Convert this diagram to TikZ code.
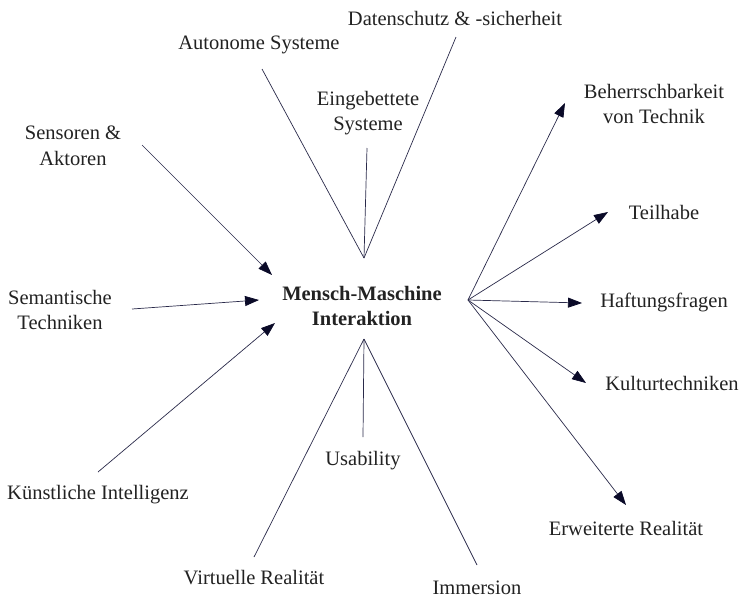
\documentclass[tikz,border=0pt]{standalone}
\usepackage{fontspec}
\setmainfont{Liberation Serif}
\usetikzlibrary{arrows.meta}
\definecolor{linec}{HTML}{2A2A4A}
\definecolor{tipc}{HTML}{0A0A28}
\definecolor{txtc}{HTML}{222222}
\tikzset{
  lbl/.style={text=txtc, font=\fontsize{20.5}{25.5}\selectfont, align=center, inner sep=0pt},
  hub/.style={text=txtc, font=\fontsize{20.5}{25.5}\selectfont\bfseries, align=center, inner sep=0pt},
  conn/.style={draw=linec, line width=0.7pt},
  arr/.style={conn, -{Triangle[length=14pt,width=10pt,fill=tipc,color=tipc]}}
}
\begin{document}
\begin{tikzpicture}[x=1pt,y=-1pt]
\useasboundingbox (0,0) rectangle (742,598);
% hub
\node[hub] (mmi) at (362,306) {Mensch-Maschine\\Interaktion};
% labels
\node[lbl] (dat) at (455,18) {Datenschutz \& -sicherheit};
\node[lbl] (aut) at (259,45) {Autonome Systeme};
\node[lbl] (ein) at (368,113) {Eingebettete\\Systeme};
\node[lbl] (sen) at (73,146) {Sensoren \&\\Aktoren};
\node[lbl] (sem) at (60,310) {Semantische\\Techniken};
\node[lbl] (kue) at (98,495) {Künstliche Intelligenz};
\node[lbl] (beh) at (654,104) {Beherrschbarkeit\\von Technik};
\node[lbl] (tei) at (664,212) {Teilhabe};
\node[lbl] (haf) at (664,302) {Haftungsfragen};
\node[lbl] (kul) at (672,383) {Kulturtechniken};
\node[lbl] (erw) at (626,528) {Erweiterte Realität};
\node[lbl] (usa) at (363,461) {Usability};
\node[lbl] (vir) at (254,578) {Virtuelle Realität};
\node[lbl] (imm) at (477,588) {Immersion};
% connector end points
\coordinate (top) at (364,258);
\coordinate (bot) at (364,339);
\coordinate (rgt) at (468,300);
\coordinate (datE) at (456,37);
\coordinate (autE) at (262,69);
\coordinate (einE) at (367,148);
\coordinate (usaE) at (363,437);
\coordinate (virE) at (254,557);
\coordinate (immE) at (477,565);
\coordinate (senS) at (142,145);
\coordinate (senT) at (272,275);
\coordinate (semS) at (132,309);
\coordinate (semT) at (259,300);
\coordinate (kueS) at (98,472);
\coordinate (kueT) at (275,323);
\coordinate (behT) at (565,103);
\coordinate (teiT) at (608,212);
\coordinate (hafT) at (582,303);
\coordinate (kulT) at (586,383);
\coordinate (erwT) at (626,505);
% top lines
\draw[conn] (top) -- (datE);
\draw[conn] (top) -- (autE);
\draw[conn] (top) -- (einE);
% bottom lines
\draw[conn] (bot) -- (usaE);
\draw[conn] (bot) -- (virE);
\draw[conn] (bot) -- (immE);
% left arrows
\draw[arr] (senS) -- (senT);
\draw[arr] (semS) -- (semT);
\draw[arr] (kueS) -- (kueT);
% right arrows
\draw[arr] (rgt) -- (behT);
\draw[arr] (rgt) -- (teiT);
\draw[arr] (rgt) -- (hafT);
\draw[arr] (rgt) -- (kulT);
\draw[arr] (rgt) -- (erwT);
\end{tikzpicture}
\end{document}
